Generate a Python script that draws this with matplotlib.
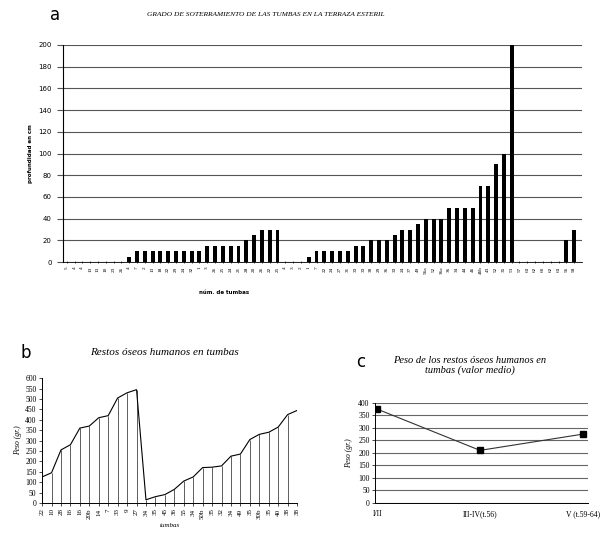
import numpy as np
import matplotlib.pyplot as plt

# panel a: depth of each tomb (cm)
tumbas_a = ["5", "4", "4", "13", "13", "10", "23", "26", "4", "7",
            "2", "13", "18", "22", "29", "24", "32", "1", "3", "26",
            "25", "24", "21", "28", "20", "26", "22", "25", "4", "3",
            "2", "1", "7", "22", "24", "27", "31", "33", "33", "39",
            "29", "36", "33", "24", "37", "49", "56a", "52", "36a", "36",
            "34", "44", "46", "46b", "43", "52", "35", "53", "57", "63",
            "62", "60", "62", "63", "56", "58"]
profundidad = [0, 0, 0, 0, 0, 0, 0, 0, 5, 10,
               10, 10, 10, 10, 10, 10, 10, 10, 15, 15,
               15, 15, 15, 20, 25, 30, 30, 30, 0, 0,
               0, 5, 10, 10, 10, 10, 10, 15, 15, 20,
               20, 20, 25, 30, 30, 35, 40, 40, 40, 50,
               50, 50, 50, 70, 70, 90, 100, 200, 0, 0,
               0, 0, 0, 0, 20, 30]

# panel b: bone weight per tomb (g)
tumbas_b = ["22", "10", "28", "16", "16", "20b", "14", "7", "33", "9",
            "27", "34", "35", "45", "36", "55", "34", "50b", "35", "32",
            "34", "49", "35", "30b", "35", "40", "38", "38"]
peso_b = [125, 145, 255, 280, 360, 370, 410, 420, 505, 530,
          545, 15, 30, 40, 65, 105, 125, 170, 172, 178,
          225, 235, 305, 330, 340, 365, 425, 445]

# panel c: mean weight by phase
fases = ["I/II", "III-IV(t.56)", "V (t.59-64)"]
peso_medio = [375, 210, 275]

serif = "Liberation Serif"

fig = plt.figure(figsize=(6.1, 5.35), dpi=100)

# ---- panel a ----
ax1 = fig.add_axes([0.103, 0.510, 0.851, 0.406])
x = np.arange(len(tumbas_a))
ax1.bar(x, profundidad, width=0.5, color="black", zorder=3)
ax1.set_xlim(-0.5, 66)
ax1.set_ylim(0, 200)
ax1.set_yticks(np.arange(0, 201, 20))
ax1.yaxis.grid(True, color="#555555", linewidth=0.8)
ax1.set_axisbelow(True)
ax1.set_xticks(x)
ax1.set_xticklabels(tumbas_a, rotation=90, fontsize=3.8, family=serif)
ax1.tick_params(axis="y", labelsize=5, length=4, width=0.8, color="#555555", pad=4)
ax1.tick_params(axis="x", length=2, width=0.5, direction="inout", pad=2)
for s in ["top", "right"]:
    ax1.spines[s].set_visible(False)
ax1.spines["left"].set_linewidth(0.8)
ax1.spines["bottom"].set_linewidth(0.6)
ax1.set_ylabel("profundidad en cm", fontsize=4, fontweight="bold", labelpad=4)
ax1.set_xlabel("núm. de tumbas", fontsize=4, fontweight="bold", labelpad=2)
ax1.xaxis.set_label_coords(0.31, -0.13)
fig.text(0.082, 0.972, "a", fontsize=12, family="DejaVu Sans", va="center")
fig.text(0.435, 0.972, "GRADO DE SOTERRAMIENTO DE LAS TUMBAS EN LA TERRAZA ESTERIL",
         fontsize=5.3, family=serif, style="italic", ha="center", va="center")

# ---- panel b ----
ax2 = fig.add_axes([0.069, 0.060, 0.418, 0.233])
xb = np.arange(len(tumbas_b))
ax2.vlines(xb, 0, peso_b, color="#444444", linewidth=0.6)
ax2.plot(xb, peso_b, color="black", linewidth=0.8)
ax2.set_xlim(0, len(tumbas_b) - 1)
ax2.set_ylim(0, 600)
ax2.set_yticks(np.arange(0, 601, 50))
ax2.set_xticks(xb)
ax2.set_xticklabels(tumbas_b, rotation=90, fontsize=5, family=serif)
ax2.tick_params(axis="y", labelsize=5.5, length=2, width=0.5, pad=2)
ax2.tick_params(axis="x", length=2, width=0.5, pad=2)
for lab in ax2.get_yticklabels():
    lab.set_family(serif)
for s in ["top", "right"]:
    ax2.spines[s].set_visible(False)
ax2.spines["left"].set_linewidth(0.7)
ax2.spines["bottom"].set_linewidth(0.7)
ax2.set_ylabel("Peso (gr.)", fontsize=5.5, family=serif, style="italic", labelpad=2)
ax2.set_xlabel("tumbas", fontsize=5, family=serif, style="italic", labelpad=3)
fig.text(0.033, 0.341, "b", fontsize=12, family="DejaVu Sans", va="center")
fig.text(0.27, 0.341, "Restos óseos humanos en tumbas", fontsize=8,
         family=serif, style="italic", ha="center", va="center")

# ---- panel c ----
ax3 = fig.add_axes([0.615, 0.060, 0.349, 0.187])
xc = np.arange(len(fases))
ax3.plot(xc, peso_medio, color="#333333", linewidth=0.8, marker="s",
         markersize=4, markerfacecolor="black", markeredgecolor="black", zorder=3)
ax3.set_xlim(-0.02, 2.05)
ax3.set_ylim(0, 400)
ax3.set_yticks(np.arange(0, 401, 50))
ax3.yaxis.grid(True, color="#666666", linewidth=0.8)
ax3.set_axisbelow(True)
ax3.set_xticks(xc)
ax3.set_xticklabels(fases, fontsize=5.5, family=serif)
ax3.tick_params(axis="y", labelsize=5.5, length=2, width=0.5, pad=2)
ax3.tick_params(axis="x", length=0, pad=5)
for lab in ax3.get_yticklabels():
    lab.set_family(serif)
for s in ["top", "right"]:
    ax3.spines[s].set_visible(False)
ax3.spines["left"].set_linewidth(0.7)
ax3.spines["bottom"].set_linewidth(0.7)
ax3.set_ylabel("Peso (gr.)", fontsize=5.5, family=serif, style="italic", labelpad=4)
fig.text(0.583, 0.323, "c", fontsize=12, family="DejaVu Sans", va="center")
fig.text(0.77, 0.317, "Peso de los restos óseos humanos en\ntumbas (valor medio)",
         fontsize=7.5, family=serif, style="italic", ha="center", va="center",
         linespacing=1.1)

fig.savefig("out.png", dpi=100)
